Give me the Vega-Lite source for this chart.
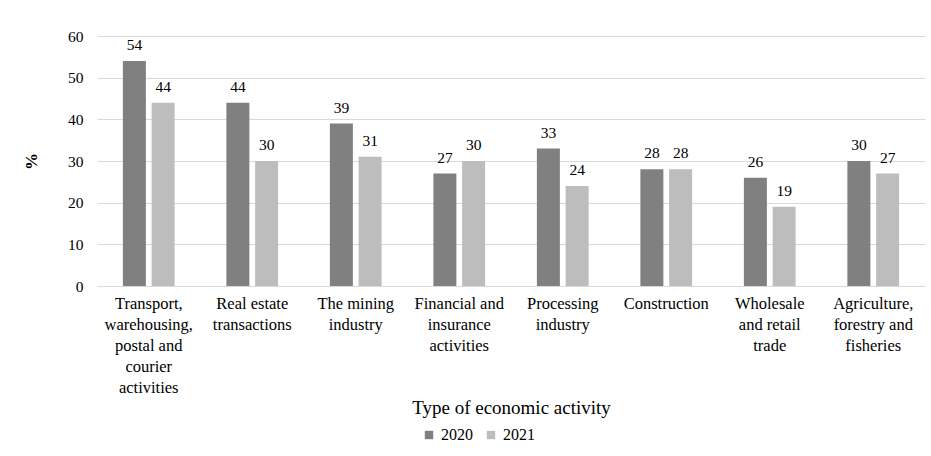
{
  "$schema": "https://vega.github.io/schema/vega-lite/v6.json",
  "width": 828,
  "height": 250,
  "autosize": "none",
  "padding": {"left": 97, "top": 36, "right": 6, "bottom": 170},
  "background": "white",
  "data": {
    "values": [
      {"activity": "Transport, warehousing, postal and courier activities", "year": "2020", "value": 54},
      {"activity": "Transport, warehousing, postal and courier activities", "year": "2021", "value": 44},
      {"activity": "Real estate transactions", "year": "2020", "value": 44},
      {"activity": "Real estate transactions", "year": "2021", "value": 30},
      {"activity": "The mining industry", "year": "2020", "value": 39},
      {"activity": "The mining industry", "year": "2021", "value": 31},
      {"activity": "Financial and insurance activities", "year": "2020", "value": 27},
      {"activity": "Financial and insurance activities", "year": "2021", "value": 30},
      {"activity": "Processing industry", "year": "2020", "value": 33},
      {"activity": "Processing industry", "year": "2021", "value": 24},
      {"activity": "Construction", "year": "2020", "value": 28},
      {"activity": "Construction", "year": "2021", "value": 28},
      {"activity": "Wholesale and retail trade", "year": "2020", "value": 26},
      {"activity": "Wholesale and retail trade", "year": "2021", "value": 19},
      {"activity": "Agriculture, forestry and fisheries", "year": "2020", "value": 30},
      {"activity": "Agriculture, forestry and fisheries", "year": "2021", "value": 27}
    ]
  },
  "encoding": {
    "x": {
      "field": "activity",
      "type": "nominal",
      "sort": null,
      "scale": {"paddingInner": 0.5, "paddingOuter": 0.25},
      "axis": {
        "title": "Type of economic activity",
        "titleFont": "Liberation Serif",
        "titleFontSize": 19,
        "titleFontWeight": "normal",
        "titleColor": "#000000",
        "titlePadding": 3,
        "labelAngle": 0,
        "labelFont": "Liberation Serif",
        "labelFontSize": 16.5,
        "labelColor": "#000000",
        "labelLineHeight": 21,
        "labelPadding": 9,
        "labelBaseline": "top",
        "labelOverlap": false,
        "ticks": false,
        "domainColor": "#d9d9d9",
        "labelExpr": "{'Transport, warehousing, postal and courier activities': ['Transport,', 'warehousing,', 'postal and', 'courier', 'activities'], 'Real estate transactions': ['Real estate', 'transactions'], 'The mining industry': ['The mining', 'industry'], 'Financial and insurance activities': ['Financial and', 'insurance', 'activities'], 'Processing industry': ['Processing', 'industry'], 'Construction': ['Construction'], 'Wholesale and retail trade': ['Wholesale', 'and retail', 'trade'], 'Agriculture, forestry and fisheries': ['Agriculture,', 'forestry and', 'fisheries']}[datum.value]"
      }
    },
    "xOffset": {"field": "year", "type": "nominal", "scale": {"paddingInner": 0.2}},
    "y": {
      "field": "value",
      "type": "quantitative",
      "scale": {"domain": [0, 60]},
      "axis": {
        "title": "%",
        "titleFont": "Liberation Serif",
        "titleFontSize": 17,
        "titleFontWeight": "bold",
        "titleColor": "#000000",
        "titlePadding": 27,
        "values": [0, 10, 20, 30, 40, 50, 60],
        "labelFont": "Liberation Serif",
        "labelFontSize": 15.5,
        "labelColor": "#000000",
        "labelPadding": 14,
        "ticks": false,
        "domain": false,
        "gridColor": "#d9d9d9"
      }
    }
  },
  "layer": [
    {
      "mark": {"type": "bar"},
      "encoding": {
        "color": {
          "field": "year",
          "type": "nominal",
          "scale": {"range": ["#808080", "#bdbdbd"]},
          "legend": {
            "title": null,
            "orient": "none",
            "legendX": 324,
            "legendY": 391,
            "direction": "horizontal",
            "symbolType": "square",
            "symbolSize": 70,
            "symbolStrokeWidth": 0,
            "labelFont": "Liberation Serif",
            "labelFontSize": 16,
            "labelColor": "#000000",
            "columnPadding": 10,
            "labelOffset": 4
          }
        }
      }
    },
    {
      "mark": {"type": "text", "baseline": "bottom", "dy": -8, "font": "Liberation Serif", "fontSize": 15.5, "color": "#000000"},
      "encoding": {
        "text": {"field": "value", "type": "quantitative"}
      }
    }
  ],
  "config": {"view": {"stroke": null}}
}
